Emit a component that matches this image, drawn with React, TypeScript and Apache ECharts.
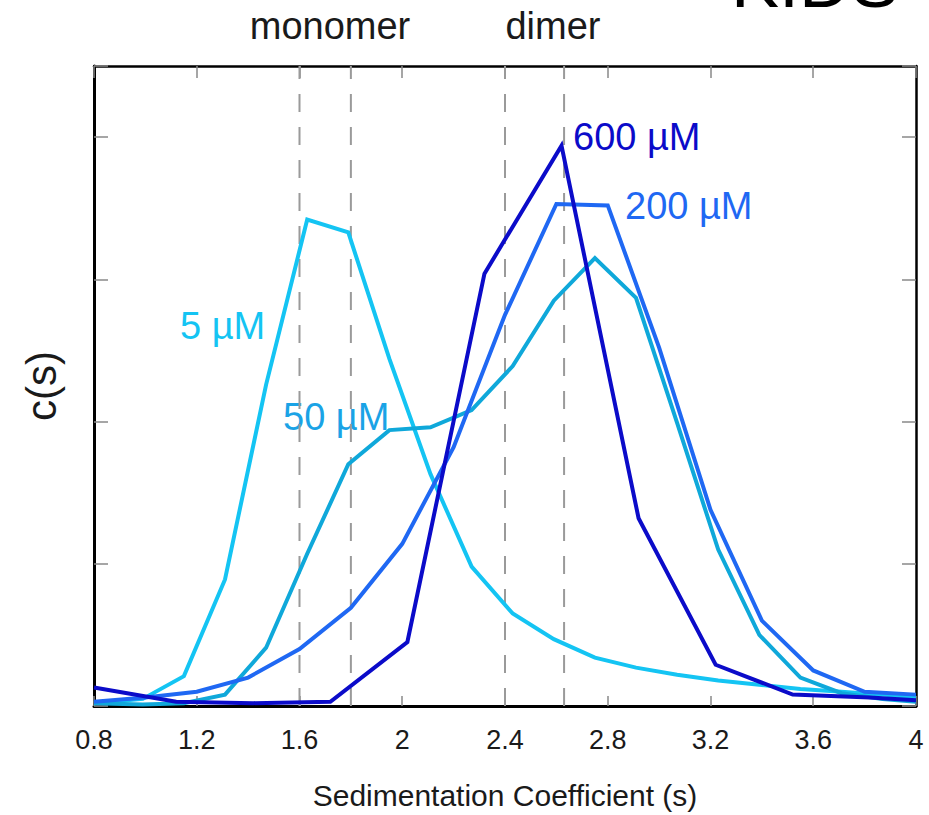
import React, { useEffect, useRef } from "react";
import * as echarts from "echarts";

// x tick labels (value axis) 0.8 .. 4 step 0.4
const xMin = 0.8;
const xMax = 4;
const xStep = 0.4;
const yMin = 0;
const yMax = 4.5;
const yStep = 1;

// reference dashed lines (monomer / dimer region)
const dashedX = [1.6, 1.8, 2.4, 2.63];

// 5 µM and 50 µM share the same sampling
const xFine = [0.8, 0.99, 1.15, 1.31, 1.47, 1.63, 1.79, 1.95, 2.11, 2.27, 2.43, 2.59, 2.75, 2.91, 3.07, 3.23, 3.39, 3.55, 3.71, 3.87, 4.0];
const y5 = [0.02, 0.05, 0.21, 0.89, 2.26, 3.42, 3.33, 2.44, 1.63, 0.98, 0.65, 0.47, 0.34, 0.27, 0.22, 0.18, 0.15, 0.12, 0.1, 0.08, 0.06];
const y50 = [0.02, 0.01, 0.02, 0.08, 0.41, 1.07, 1.7, 1.94, 1.96, 2.08, 2.39, 2.85, 3.15, 2.87, 1.99, 1.1, 0.5, 0.2, 0.09, 0.05, 0.03];

const x200 = [0.8, 1.0, 1.2, 1.4, 1.6, 1.8, 2.0, 2.2, 2.4, 2.6, 2.8, 3.0, 3.2, 3.4, 3.6, 3.8, 4.0];
const y200 = [0.03, 0.06, 0.1, 0.2, 0.4, 0.69, 1.14, 1.82, 2.75, 3.53, 3.52, 2.52, 1.38, 0.6, 0.25, 0.1, 0.08];

const x600 = [0.8, 1.12, 1.42, 1.72, 2.02, 2.32, 2.62, 2.92, 3.22, 3.52, 3.82, 4.0];
const y600 = [0.13, 0.03, 0.02, 0.03, 0.45, 3.04, 3.94, 1.32, 0.29, 0.08, 0.06, 0.04];

const seriesNames = ["5 µM", "50 µM", "200 µM", "600 µM"];
const seriesColors = ["#14c4f3", "#0fa8da", "#1f68f3", "#0b0bc9"];
const labelColors = ["#14c4f3", "#1aa3e6", "#1f68f3", "#0b0bc9"];

const topLabels = ["monomer", "dimer"];
const xName = "Sedimentation Coefficient (s)";
const yName = "c(s)";
const cornerText = "KIDS";

const zip = (xs: number[], ys: number[]) => xs.map((x, i) => [x, ys[i]]);

const sans = "'Liberation Sans', Arial, Helvetica, sans-serif";

export default function App() {
  const ref = useRef<HTMLDivElement>(null);

  useEffect(() => {
    if (!ref.current) return;
    const chart = echarts.init(ref.current, null, { renderer: "svg" });

    const tickStyle = { color: "#888", width: 1.5 };
    const baseX = {
      type: "value" as const,
      min: xMin,
      max: xMax,
      interval: xStep,
      splitLine: { show: false },
    };
    const baseY = {
      type: "value" as const,
      min: yMin,
      max: yMax,
      interval: yStep,
      splitLine: { show: false },
      axisLabel: { show: false },
    };

    const dataSeries = [zip(xFine, y5), zip(xFine, y50), zip(x200, y200), zip(x600, y600)];

    const option: any = {
      animation: false,
      backgroundColor: "#fff",
      grid: { left: 94, top: 66, width: 822, height: 645 },
      xAxis: [
        {
          ...baseX,
          position: "bottom",
          axisLine: { show: true, onZero: false, lineStyle: { color: "#000", width: 3 } },
          axisTick: { show: true, inside: true, length: 10, lineStyle: tickStyle },
          axisLabel: { show: true, margin: 20, fontSize: 27, color: "#1a1a1a", fontFamily: sans },
          name: xName,
          nameLocation: "middle",
          nameGap: 89,
          nameTextStyle: { fontSize: 30, color: "#1a1a1a", fontFamily: sans, verticalAlign: "middle" },
        },
        {
          ...baseX,
          position: "top",
          axisLine: { show: true, onZero: false, lineStyle: { color: "#000", width: 2.5 } },
          axisTick: { show: true, inside: true, length: 12, lineStyle: tickStyle },
          axisLabel: { show: false },
        },
      ],
      yAxis: [
        {
          ...baseY,
          position: "left",
          axisLine: { show: true, onZero: false, lineStyle: { color: "#000", width: 3 } },
          axisTick: { show: true, inside: true, length: 14, lineStyle: tickStyle },
          name: yName,
          nameLocation: "middle",
          nameGap: 53,
          nameRotate: 90,
          nameTextStyle: { fontSize: 42, color: "#1a1a1a", fontFamily: sans, verticalAlign: "middle" },
        },
        {
          ...baseY,
          position: "right",
          axisLine: { show: true, onZero: false, lineStyle: { color: "#000", width: 2.5 } },
          axisTick: { show: true, inside: true, length: 14, lineStyle: tickStyle },
        },
      ],
      series: [
        ...dashedX.map((x) => ({
          type: "line",
          xAxisIndex: 0,
          yAxisIndex: 0,
          data: [
            [x, yMin],
            [x, yMax],
          ],
          showSymbol: false,
          silent: true,
          z: 1,
          lineStyle: { color: "#9a9a9a", width: 2, type: [18, 15] },
        })),
        ...dataSeries.map((d, i) => ({
          type: "line",
          name: seriesNames[i],
          xAxisIndex: 0,
          yAxisIndex: 0,
          data: d,
          showSymbol: false,
          z: 3 + i,
          lineStyle: { color: seriesColors[i], width: 4, join: "miter" },
        })),
      ],
      graphic: [
        {
          type: "text",
          x: 330,
          y: 26,
          style: { text: topLabels[0], fontSize: 38, fontFamily: sans, fill: "#1a1a1a", align: "center", verticalAlign: "middle" },
        },
        {
          type: "text",
          x: 553,
          y: 26,
          style: { text: topLabels[1], fontSize: 38, fontFamily: sans, fill: "#1a1a1a", align: "center", verticalAlign: "middle" },
        },
        {
          type: "text",
          x: 815,
          y: -18,
          style: { text: cornerText, fontSize: 72, fontFamily: sans, fill: "#000", align: "center", verticalAlign: "middle" },
        },
        {
          type: "text",
          x: 180,
          y: 326,
          style: { text: seriesNames[0], fontSize: 38, fontFamily: sans, fill: labelColors[0], align: "left", verticalAlign: "middle" },
        },
        {
          type: "text",
          x: 283,
          y: 417,
          style: { text: seriesNames[1], fontSize: 38, fontFamily: sans, fill: labelColors[1], align: "left", verticalAlign: "middle" },
        },
        {
          type: "text",
          x: 625,
          y: 206,
          style: { text: seriesNames[2], fontSize: 38, fontFamily: sans, fill: labelColors[2], align: "left", verticalAlign: "middle" },
        },
        {
          type: "text",
          x: 573,
          y: 137,
          style: { text: seriesNames[3], fontSize: 38, fontFamily: sans, fill: labelColors[3], align: "left", verticalAlign: "middle" },
        },
      ],
    };

    chart.setOption(option);
    return () => chart.dispose();
  }, []);

  return <div ref={ref} style={{ position: "absolute", left: 0, top: 0, width: 929, height: 815 }} />;
}
